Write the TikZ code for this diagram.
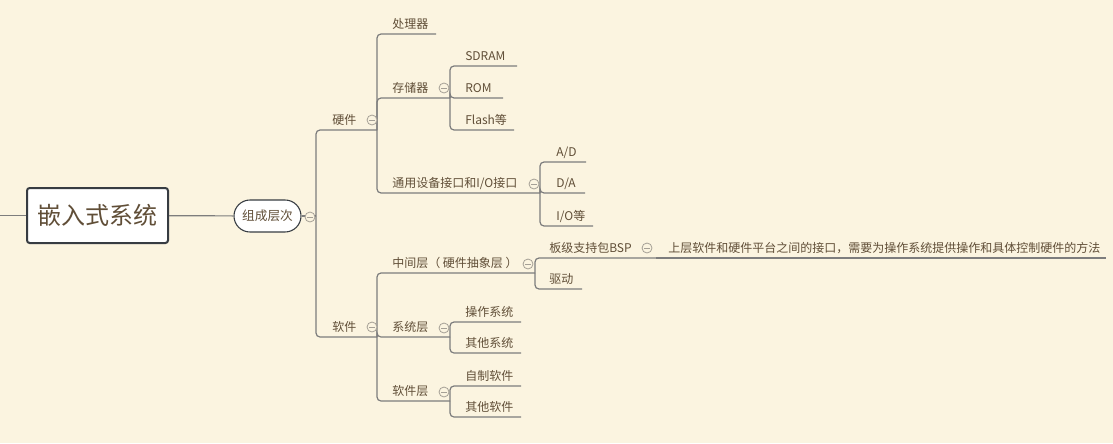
\documentclass[tikz,border=0pt]{standalone}
\usepackage{fontspec}
\setmainfont{Noto Sans CJK SC}
\usepackage{tikz}
\usetikzlibrary{positioning}
\definecolor{bg}{RGB}{251,244,224}
\definecolor{txt}{RGB}{96,78,55}
\definecolor{edge}{RGB}{125,125,125}
\definecolor{frame}{RGB}{55,60,66}
\definecolor{foldc}{RGB}{165,160,150}
\tikzset{
  branch/.style={draw=edge, line width=0.9pt, rounded corners=3pt},
  topic/.style={anchor=base west, inner sep=0pt, yshift=-1.1pt, text=txt, font=\fontsize{9}{11}\selectfont},
  rootbox/.style={draw=frame, line width=1.5pt, fill=white, rounded corners=2pt,
    minimum width=105.75pt, minimum height=41.25pt, text=txt, font=\fontsize{18}{20}\selectfont},
  pill/.style={draw=frame, line width=0.8pt, fill=white, rounded corners=12pt,
    minimum width=50.25pt, minimum height=24pt, text=txt, font=\fontsize{9.5}{11}\selectfont},
  fold/.style={circle, draw=foldc, line width=0.6pt, fill=bg, minimum size=7.5pt, inner sep=0pt,
    path picture={\draw[foldc, line width=0.6pt]
      ([xshift=-1.9pt]path picture bounding box.center) -- ([xshift=1.9pt]path picture bounding box.center);}}
}
\begin{document}
\begin{tikzpicture}[x=0.75pt, y=-0.75pt]
\fill[bg] (0,0) rectangle (1113,443);
\useasboundingbox (0,0) rectangle (1113,443);

% root and first level
\coordinate (in) at (0,215.5);
\node[rootbox] (root) at (97.5,215.5) {嵌入式系统};
\node[pill] (lvl) at (267.5,216) {组成层次};
\coordinate (lvl-e) at (316,216);

\draw[branch] (in) -- (root);
\draw[branch] (root) -- (lvl);
\draw[branch] (lvl) -- (lvl-e);

% hardware
\node[topic] (hw) at (332,123.5) {硬件};
\coordinate (hw-e) at (377,130);
\node[topic] (cpu) at (392,27.5) {处理器};
\coordinate (cpu-e) at (436,34);
\node[topic] (mem) at (392,91.5) {存储器};
\coordinate (mem-e) at (450,98);
\node[topic] (sdram) at (465,59.5) {SDRAM};
\coordinate (sdram-e) at (517,66);
\node[topic] (rom) at (465,91.5) {ROM};
\coordinate (rom-e) at (503,98);
\node[topic] (flash) at (465,123.5) {Flash等};
\coordinate (flash-e) at (514,130);
\node[topic] (io) at (392,186.5) {通用设备接口和I/O接口};
\coordinate (io-e) at (540,193);
\node[topic] (ad) at (556,155.5) {A/D};
\coordinate (ad-e) at (586,162);
\node[topic] (da) at (556,186.5) {D/A};
\coordinate (da-e) at (585,193);
\node[topic] (ioetc) at (556,219.5) {I/O等};
\coordinate (ioetc-e) at (593,226);

% software
\node[topic] (sw) at (332,330.5) {软件};
\coordinate (sw-e) at (377,337);
\node[topic] (mid) at (392,266.5) {中间层（ 硬件抽象层 ）};
\coordinate (mid-e) at (535,273);
\node[topic] (bsp) at (549,251.5) {板级支持包BSP};
\coordinate (bsp-e) at (656,258);
\node[topic] (desc) at (668,251.5) {上层软件和硬件平台之间的接口，需要为操作系统提供操作和具体控制硬件的方法};
\coordinate (desc-e) at (1106,258);
\node[topic] (drv) at (549,282.5) {驱动};
\coordinate (drv-e) at (582,289);
\node[topic] (sys) at (392,330.5) {系统层};
\coordinate (sys-e) at (450,337);
\node[topic] (os) at (465,315.5) {操作系统};
\coordinate (os-e) at (521,322);
\node[topic] (oos) at (465,346.5) {其他系统};
\coordinate (oos-e) at (521,353);
\node[topic] (app) at (392,394.5) {软件层};
\coordinate (app-e) at (450,401);
\node[topic] (own) at (465,379.5) {自制软件};
\coordinate (own-e) at (521,386);
\node[topic] (oapp) at (465,410.5) {其他软件};
\coordinate (oapp-e) at (521,417);

% branches
\draw[branch] (lvl-e) |- (hw-e);
\draw[branch] (lvl-e) |- (sw-e);
\draw[branch] (hw-e) |- (cpu-e);
\draw[branch] (hw-e) |- (mem-e);
\draw[branch] (hw-e) |- (io-e);
\draw[branch] (mem-e) |- (sdram-e);
\draw[branch] (mem-e) |- (rom-e);
\draw[branch] (mem-e) |- (flash-e);
\draw[branch] (io-e) |- (ad-e);
\draw[branch] (io-e) |- (da-e);
\draw[branch] (io-e) |- (ioetc-e);
\draw[branch] (sw-e) |- (mid-e);
\draw[branch] (sw-e) |- (sys-e);
\draw[branch] (sw-e) |- (app-e);
\draw[branch] (mid-e) |- (bsp-e);
\draw[branch] (mid-e) |- (drv-e);
\draw[branch] (bsp-e) -- (desc-e);
\draw[branch] (sys-e) |- (os-e);
\draw[branch] (sys-e) |- (oos-e);
\draw[branch] (app-e) |- (own-e);
\draw[branch] (app-e) |- (oapp-e);

% fold markers
\node[fold] (f-lvl) at (310,217) {};
\node[fold] (f-hw) at (372,120) {};
\node[fold] (f-mem) at (444,88) {};
\node[fold] (f-io) at (534,184) {};
\node[fold] (f-sw) at (372,327) {};
\node[fold] (f-mid) at (528,264) {};
\node[fold] (f-bsp) at (647,248) {};
\node[fold] (f-sys) at (444,328) {};
\node[fold] (f-app) at (444,392) {};
\end{tikzpicture}
\end{document}
